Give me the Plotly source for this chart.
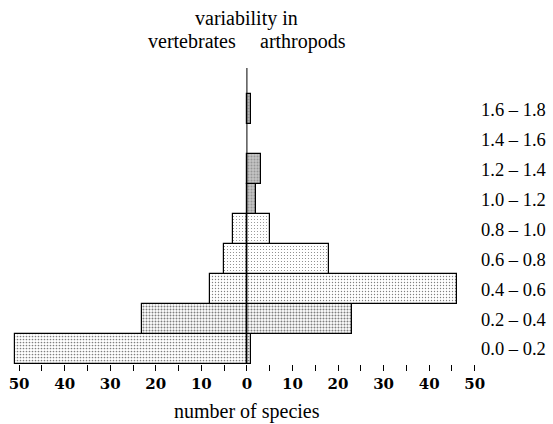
import plotly.graph_objects as go

# ---- data ----
categories = ["0.0 – 0.2", "0.2 – 0.4", "0.4 – 0.6", "0.6 – 0.8", "0.8 – 1.0",
              "1.0 – 1.2", "1.2 – 1.4", "1.4 – 1.6", "1.6 – 1.8"]
vertebrates = [51, 23, 8, 5, 3, 0, 0, 0, 0]
arthropods = [1, 23, 46, 18, 5, 2, 3, 0, 1]
tick_values = [-50, -45, -40, -35, -30, -25, -20, -15, -10, -5, 0,
               5, 10, 15, 20, 25, 30, 35, 40, 45, 50]
tick_labels = ["50", "", "40", "", "30", "", "20", "", "10", "", "0",
               "", "10", "", "20", "", "30", "", "40", "", "50"]

# stipple density / shading per bar (style)
vert_solidity = [0.25, 0.34, 0.16, 0.12, 0.10, 0.1, 0.1, 0.1, 0.1]
arth_solidity = [0.25, 0.36, 0.16, 0.12, 0.10, 0.35, 0.35, 0.35, 0.35]
arth_bg = ["white"] * 5 + ["#c4c4c4"] * 4
arth_fg = ["black"] * 5 + ["#6a6a6a"] * 4

W, H = 553, 424
ML, MR, MT, MB = 10, 76, 68, 60
plot_h = H - MT - MB


def py(px):
    """pixel y (from top) -> paper y"""
    return (H - MB - px) / plot_h


def outline(vals):
    return [1.2 if v > 0 else 0 for v in vals]


fig = go.Figure()
fig.add_trace(go.Bar(
    y=categories, x=[-v for v in vertebrates], orientation="h",
    name="vertebrates", customdata=vertebrates,
    hovertemplate="%{y}: %{customdata}<extra>vertebrates</extra>",
    marker=dict(color="white", line=dict(color="black", width=outline(vertebrates)),
                pattern=dict(shape=".", fgcolor="black", bgcolor="white",
                             size=3, solidity=vert_solidity)),
))
fig.add_trace(go.Bar(
    y=categories, x=arthropods, orientation="h",
    name="arthropods",
    marker=dict(color="white", line=dict(color="black", width=outline(arthropods)),
                pattern=dict(shape=".", fgcolor=arth_fg, bgcolor=arth_bg,
                             size=3, solidity=arth_solidity)),
))

fig.add_shape(type="line", xref="x", yref="paper", x0=0, x1=0, y0=0, y1=1,
              line=dict(color="black", width=1), layer="above")

serif = "Liberation Serif"
fig.add_annotation(text="variability in", x=0, xref="x", y=py(19), yref="paper",
                   xanchor="center", yanchor="middle", showarrow=False,
                   font=dict(family=serif, size=20, color="black"))
fig.add_annotation(text="vertebrates", x=-1.9, xref="x", y=py(41), yref="paper",
                   xanchor="right", yanchor="middle", showarrow=False,
                   font=dict(family=serif, size=20, color="black"))
fig.add_annotation(text="arthropods", x=2.4, xref="x", y=py(41), yref="paper",
                   xanchor="left", yanchor="middle", showarrow=False,
                   font=dict(family=serif, size=20, color="black"))
fig.add_annotation(text="number of species", x=0, xref="x", y=py(411), yref="paper",
                   xanchor="center", yanchor="middle", showarrow=False,
                   font=dict(family=serif, size=20, color="black"))

fig.update_layout(
    width=W, height=H,
    margin=dict(l=ML, r=MR, t=MT, b=MB, autoexpand=False),
    paper_bgcolor="white", plot_bgcolor="white",
    barmode="overlay", bargap=0,
    showlegend=False,
    xaxis=dict(range=[-52, 50.5], tickmode="array", tickvals=tick_values,
               ticktext=tick_labels, ticks="outside", ticklen=6, tickwidth=1,
               tickcolor="black", showgrid=False, zeroline=False, showline=False,
               automargin=False,
               tickfont=dict(family="DejaVu Serif", size=15, color="black", weight="bold")),
    yaxis=dict(range=[-0.5, 9.37], side="right", showgrid=False, zeroline=False,
               showline=False, ticks="", ticklabelstandoff=3, automargin=False,
               tickfont=dict(family=serif, size=18.5, color="black")),
)

fig.write_html("out.html")
